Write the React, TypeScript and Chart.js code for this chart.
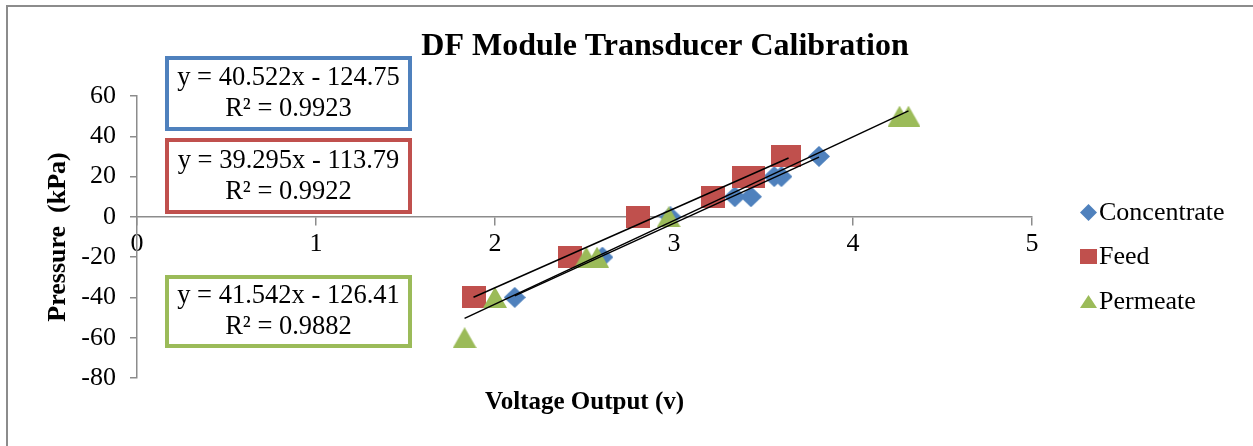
import React, { useEffect, useRef } from 'react';
import { Chart, registerables } from 'chart.js';

Chart.register(...registerables);

// ---------- data ----------
const seriesNames = ['Concentrate', 'Feed', 'Permeate'];
const seriesColors = ['#4F81BD', '#C0504D', '#9BBB59'];

const concentrateX = [2.11, 2.6, 2.98, 3.34, 3.43, 3.56, 3.6, 3.81];
const concentrateY = [-40, -20, 0, 10, 10, 20, 20, 30];

const feedX = [1.88, 2.42, 2.8, 3.22, 3.39, 3.44, 3.61, 3.64];
const feedY = [-40, -20, 0, 10, 20, 20, 30, 30];

const permeateX = [1.83, 2.0, 2.51, 2.57, 2.97, 4.26, 4.31];
const permeateY = [-60, -40, -20, -20, 0, 50, 50];

const trendSlopes = [40.522, 39.295, 41.542];
const trendIntercepts = [-124.75, -113.79, -126.41];
const trendR2 = ['0.9923', '0.9922', '0.9882'];
const equationTexts = ['y = 40.522x - 124.75', 'y = 39.295x - 113.79', 'y = 41.542x - 126.41'];

const chartTitle = 'DF Module Transducer Calibration';
const xAxisTitle = 'Voltage Output (v)';
const yAxisTitle = 'Pressure  (kPa)';

const xMin = 0;
const xMax = 5;
const xStep = 1;
const yMin = -80;
const yMax = 60;
const yStep = 20;

// ---------- helpers ----------
const FONT = '"Liberation Serif", "Times New Roman", serif';

function makeMarker(shape: string, color: string, w: number, h: number) {
  const c = document.createElement('canvas');
  c.width = w;
  c.height = h;
  const g = c.getContext('2d') as CanvasRenderingContext2D;
  g.fillStyle = color;
  g.beginPath();
  if (shape === 'diamond') {
    g.moveTo(w / 2, 0);
    g.lineTo(w, h / 2);
    g.lineTo(w / 2, h);
    g.lineTo(0, h / 2);
  } else if (shape === 'square') {
    g.rect(0, 0, w, h);
  } else {
    g.moveTo(w / 2, 0);
    g.lineTo(w, h);
    g.lineTo(0, h);
  }
  g.closePath();
  g.fill();
  return c;
}

function toPoints(xs: number[], ys: number[]) {
  return xs.map((x, i) => ({ x, y: ys[i] }));
}

function trendPoints(xs: number[], idx: number) {
  const lo = Math.min(...xs);
  const hi = Math.max(...xs);
  return [
    { x: lo, y: trendSlopes[idx] * lo + trendIntercepts[idx] },
    { x: hi, y: trendSlopes[idx] * hi + trendIntercepts[idx] },
  ];
}

export default function App() {
  const canvasRef = useRef<HTMLCanvasElement | null>(null);

  useEffect(() => {
    const canvas = canvasRef.current;
    if (!canvas) return;

    const shapes = ['diamond', 'square', 'triangle'];
    const markerSizes = [
      [22, 21],
      [24, 22],
      [24, 21],
    ];
    const legendSizes = [
      [17, 17],
      [17, 15],
      [17, 13],
    ];
    const markers = shapes.map((s, i) => makeMarker(s, seriesColors[i], markerSizes[i][0], markerSizes[i][1]));
    const legendMarkers = shapes.map((s, i) => makeMarker(s, seriesColors[i], legendSizes[i][0], legendSizes[i][1]));

    const xsList = [concentrateX, feedX, permeateX];
    const ysList = [concentrateY, feedY, permeateY];

    const scatterSets = xsList.map((xs, i) => ({
      type: 'scatter' as const,
      label: seriesNames[i],
      data: toPoints(xs, ysList[i]),
      pointStyle: markers[i],
      pointRadius: 10,
      pointHoverRadius: 10,
      backgroundColor: seriesColors[i],
      borderColor: seriesColors[i],
      showLine: false,
      order: 3 - i + 1,
    }));

    const trendSets = xsList.map((xs, i) => ({
      type: 'line' as const,
      label: 'trend-' + seriesNames[i],
      data: trendPoints(xs, i),
      borderColor: '#000000',
      borderWidth: 1.5,
      pointRadius: 0,
      pointHoverRadius: 0,
      fill: false,
      showLine: true,
      order: 0,
    }));

    const decor = {
      id: 'decor',
      beforeDraw(chart: any) {
        const ctx = chart.ctx as CanvasRenderingContext2D;
        ctx.save();
        ctx.fillStyle = '#ffffff';
        ctx.fillRect(0, 0, chart.width, chart.height);
        // outer frame: only the left and top edges are inside the picture
        ctx.strokeStyle = '#8c8c8c';
        ctx.lineWidth = 2;
        ctx.beginPath();
        ctx.moveTo(7, chart.height);
        ctx.lineTo(7, 6);
        ctx.lineTo(chart.width, 6);
        ctx.stroke();
        ctx.restore();
      },
      afterDraw(chart: any) {
        const ctx = chart.ctx as CanvasRenderingContext2D;
        const ca = chart.chartArea;
        ctx.save();
        ctx.fillStyle = '#000000';

        // chart title
        ctx.font = `bold 32px ${FONT}`;
        ctx.textAlign = 'center';
        ctx.textBaseline = 'alphabetic';
        ctx.fillText(chartTitle, 665, 55);

        // x axis title
        ctx.font = `bold 25px ${FONT}`;
        ctx.fillText(xAxisTitle, (ca.left + ca.right) / 2, ca.bottom + 31);

        // y axis title
        ctx.save();
        ctx.translate(58, (ca.top + ca.bottom) / 2);
        ctx.rotate(-Math.PI / 2);
        ctx.font = `bold 26px ${FONT}`;
        ctx.textBaseline = 'middle';
        ctx.fillText(yAxisTitle, 0, 0);
        ctx.restore();

        // equation boxes
        const boxTops = [ca.top - 38, ca.top + 44, ca.top + 181];
        const boxHeights = [71, 72, 69];
        const boxLeft = ca.left + 30;
        const boxWidth = 243;
        for (let i = 0; i < 3; i++) {
          ctx.fillStyle = '#ffffff';
          ctx.fillRect(boxLeft, boxTops[i], boxWidth, boxHeights[i]);
          ctx.strokeStyle = seriesColors[i];
          ctx.lineWidth = 4;
          ctx.strokeRect(boxLeft, boxTops[i], boxWidth, boxHeights[i]);
          ctx.fillStyle = '#000000';
          ctx.font = `26.5px ${FONT}`;
          ctx.textAlign = 'center';
          ctx.textBaseline = 'middle';
          const cx = boxLeft + boxWidth / 2;
          const mid = boxTops[i] + boxHeights[i] / 2;
          ctx.fillText(equationTexts[i], cx, mid - 15);
          ctx.fillText('R\u00B2 = ' + trendR2[i], cx, mid + 16);
        }

        // legend
        const rowYs = [ca.top + 116, ca.top + 160, ca.top + 205];
        const markX = ca.right + 56;
        ctx.font = `26px ${FONT}`;
        ctx.textAlign = 'left';
        ctx.textBaseline = 'middle';
        for (let i = 0; i < 3; i++) {
          const m = legendMarkers[i];
          ctx.drawImage(m, Math.round(markX - m.width / 2), Math.round(rowYs[i] - m.height / 2));
          ctx.fillStyle = '#000000';
          ctx.fillText(seriesNames[i], ca.right + 67, rowYs[i] + 1);
        }
        ctx.restore();
      },
    };

    const chart = new Chart(canvas, {
      type: 'scatter',
      data: { datasets: [...trendSets, ...scatterSets] as any },
      options: {
        animation: false,
        responsive: true,
        maintainAspectRatio: false,
        layout: { padding: { left: 0, top: 96, right: 221, bottom: 68 } },
        plugins: {
          legend: { display: false },
          title: { display: false },
          tooltip: { enabled: false },
        },
        scales: {
          x: {
            type: 'linear',
            min: xMin,
            max: xMax,
            position: { y: 0 } as any,
            ticks: {
              stepSize: xStep,
              color: '#000000',
              font: { family: FONT, size: 26 },
              padding: 4,
              maxRotation: 0,
            },
            grid: {
              display: true,
              drawOnChartArea: false,
              drawTicks: true,
              tickLength: 8,
              color: '#8c8c8c',
              lineWidth: 1.5,
            },
            border: { display: true, color: '#8c8c8c', width: 1.5 },
          },
          y: {
            type: 'linear',
            min: yMin,
            max: yMax,
            position: 'left',
            ticks: {
              stepSize: yStep,
              color: '#000000',
              font: { family: FONT, size: 26 },
              padding: 14,
            },
            grid: {
              display: true,
              drawOnChartArea: false,
              drawTicks: true,
              tickLength: 7,
              color: '#8c8c8c',
              lineWidth: 1.5,
            },
            border: { display: true, color: '#8c8c8c', width: 1.5 },
            afterFit: (scale: any) => {
              scale.width = 137;
            },
          },
        },
      },
      plugins: [decor],
    });

    return () => {
      chart.destroy();
    };
  }, []);

  return (
    <div
      style={{
        position: 'fixed',
        left: 0,
        top: 0,
        width: 1253,
        height: 446,
        overflow: 'hidden',
        background: '#ffffff',
      }}
    >
      <canvas ref={canvasRef} />
    </div>
  );
}
